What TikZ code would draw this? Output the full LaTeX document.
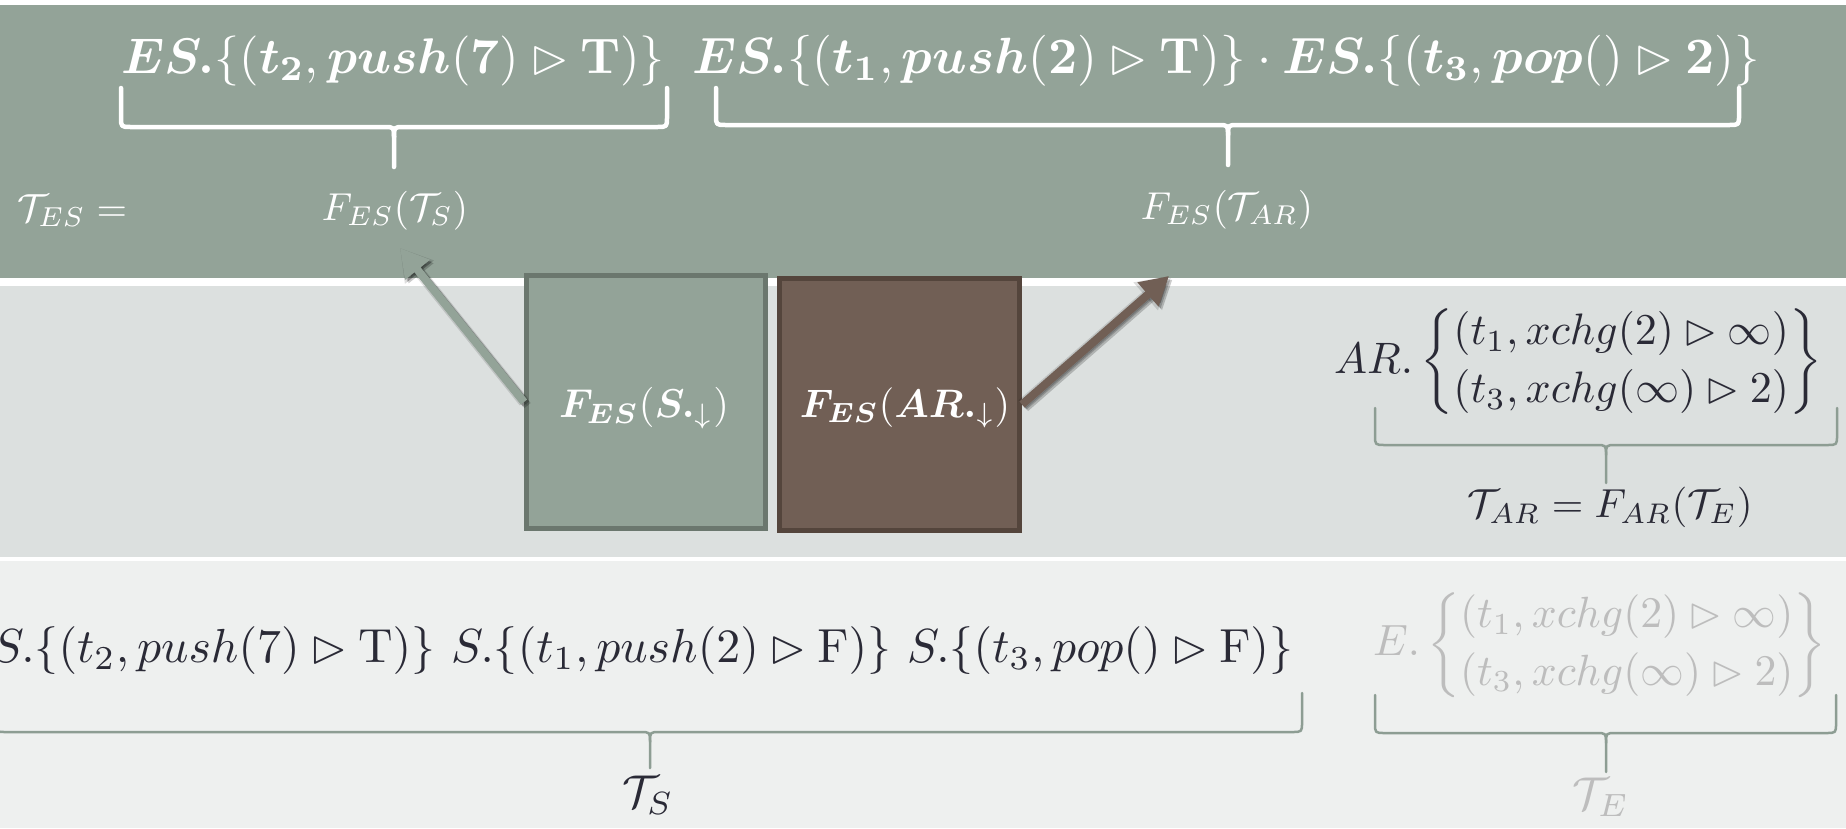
\documentclass[tikz,border=0pt]{standalone}
\usepackage{amsmath,amssymb}
\usepackage{graphicx}
\usetikzlibrary{arrows.meta}
\definecolor{topband}{HTML}{93A398}
\definecolor{midband}{HTML}{DCE0DF}
\definecolor{botband}{HTML}{EEF0EF}
\definecolor{greenbox}{HTML}{93A398}
\definecolor{greenedge}{HTML}{6B776E}
\definecolor{brownbox}{HTML}{715F55}
\definecolor{brownedge}{HTML}{54453C}
\definecolor{inkdark}{HTML}{2A2A36}
\definecolor{inkpale}{HTML}{BDBDBD}
\definecolor{thinbrace}{HTML}{8D9D93}
\renewcommand{\arraystretch}{1.1}
\newcommand{\FitW}[2]{\resizebox{#1pt}{!}{$#2$}}
% #1 style, #2 x1, #3 x2, #4 xc, #5 ytop, #6 yh, #7 ybot
\newcommand{\PPbrace}[7]{%
  \draw[#1] (#2,#5) -- (#2,#6-10) .. controls (#2,#6) .. (#2+10,#6) -- (#4-10,#6) .. controls (#4,#6) .. (#4,#6+10) -- (#4,#7);
  \draw[#1] (#3,#5) -- (#3,#6-10) .. controls (#3,#6) .. (#3-10,#6) -- (#4+10,#6) .. controls (#4,#6) .. (#4,#6+10);
}
\tikzset{
  lbl/.style={inner sep=0pt, outer sep=0pt},
  wt/.style={lbl, text=white},
  dk/.style={lbl, text=inkdark},
  pale/.style={lbl, text=inkpale},
  wbrace/.style={draw=white, line width=4.5pt, line cap=round, line join=round},
  tbrace/.style={draw=thinbrace, line width=2.5pt, line cap=round, line join=round},
  gbox/.style={draw=greenedge, fill=greenbox, line width=5pt, inner sep=0pt, minimum width=239pt, minimum height=253pt},
  bbox/.style={draw=brownedge, fill=brownbox, line width=5pt, inner sep=0pt, minimum width=240pt, minimum height=252pt},
  fatarrow/.style={line width=8pt, -{Triangle[length=28pt,width=30pt]}},
  arrowglow/.style={line width=11pt, -{Triangle[length=31pt,width=35pt]}, draw=black, fill=black, opacity=0.13},
  arrowshadow/.style={fatarrow, draw=black, fill=black, opacity=0.2, transform canvas={xshift=#1pt,yshift=-#1pt}}
}
\begin{document}
\begin{tikzpicture}[x=1pt,y=-1pt]
\useasboundingbox (0,0) rectangle (1846,828);
\begin{scope}
\clip (0,0) rectangle (1846,828);
% bands
\fill[white] (0,0) rectangle (1846,828);
\fill[topband] (0,5) rectangle (1846,278);
\fill[midband] (0,286) rectangle (1846,557);
\fill[botband] (0,561) rectangle (1846,828);

% top row texts
\node[wt, anchor=base west] (es2) at (121,73) {\FitW{544}{\boldsymbol{ES.}\{(\boldsymbol{t}_{\mathbf 2},\boldsymbol{push}(\mathbf{7})\rhd\mathbf{T})\}}};
\node[wt, anchor=base west] (ar13) at (692,73) {\FitW{1068}{\boldsymbol{ES.}\{(\boldsymbol{t}_{\mathbf 1},\boldsymbol{push}(\mathbf{2})\rhd\mathbf{T})\}\cdot\boldsymbol{ES.}\{(\boldsymbol{t}_{\mathbf 3},\boldsymbol{pop}()\rhd\mathbf{2})\}}};
\PPbrace{wbrace}{121}{667}{394}{88}{127}{167}
\PPbrace{wbrace}{716}{1739}{1228}{88}{125}{165}

\node[wt, anchor=base west] (tes) at (17,221) {\FitW{110}{\mathcal{T}_{ES}=}};
\node[wt, anchor=base] (fts) at (395,220) {\FitW{146}{F_{ES}(\mathcal{T}_S)}};
\node[wt, anchor=base] (ftar) at (1227,219) {\FitW{172}{F_{ES}(\mathcal{T}_{AR})}};

% boxes
\node[gbox] (box1) at (646,402) {};
\node[bbox] (box2) at (899.5,404.5) {};
\node[wt, anchor=base] (box1txt) at (644,417) {\FitW{170}{\boldsymbol{F_{ES}}(\boldsymbol{S.}_{\downarrow})}};
\node[wt, anchor=base] (box2txt) at (905,417) {\FitW{210}{\boldsymbol{F_{ES}}(\boldsymbol{AR.}_{\downarrow})}};

% arrows
\coordinate (tipS) at (400,248);
\coordinate (tipAR) at (1169,276);
\draw[arrowglow] (box1.west) -- (tipS);
\draw[arrowshadow=3.5] (box1.west) -- (tipS);
\draw[arrowshadow=2] (box1.west) -- (tipS);
\draw[arrowglow] (box2.east) -- (tipAR);
\draw[arrowshadow=3.5] (box2.east) -- (tipAR);
\draw[arrowshadow=2] (box2.east) -- (tipAR);
\draw[fatarrow, draw=greenbox, fill=greenbox] (box1.west) -- (tipS);
\draw[fatarrow, draw=brownbox, fill=brownbox] (box2.east) -- (tipAR);

% middle band right
\node[dk, anchor=west] (arset) at (1334,362) {\FitW{488}{AR.\left\{\begin{array}{@{}l@{}}(t_1,xchg(2)\rhd\infty)\\(t_3,xchg(\infty)\rhd 2)\end{array}\right\}}};
\PPbrace{tbrace}{1375}{1837}{1606}{408}{445}{483}
\node[dk] (tar) at (1610,507) {\FitW{285}{\mathcal{T}_{AR}=F_{AR}(\mathcal{T}_E)}};

% bottom band
\node[dk, anchor=base east] (sseq) at (1293,662) {\FitW{1301}{S.\{(t_2,push(7)\rhd\mathrm{T})\}\ S.\{(t_1,push(2)\rhd\mathrm{F})\}\ S.\{(t_3,pop()\rhd\mathrm{F})\}}};
\PPbrace{tbrace}{-4}{1302}{650}{693}{732}{768}
\node[dk] (ts) at (648,795) {\scalebox{4.6}{$\mathcal{T}_S$}};

\node[pale, anchor=west] (eset) at (1373,645) {\FitW{453}{E.\left\{\begin{array}{@{}l@{}}(t_1,xchg(2)\rhd\infty)\\(t_3,xchg(\infty)\rhd 2)\end{array}\right\}}};
\PPbrace{tbrace}{1375}{1836}{1606}{695}{733}{772}
\node[pale] (te) at (1601,797) {\scalebox{4.6}{$\mathcal{T}_E$}};
\end{scope}
\end{tikzpicture}
\end{document}
